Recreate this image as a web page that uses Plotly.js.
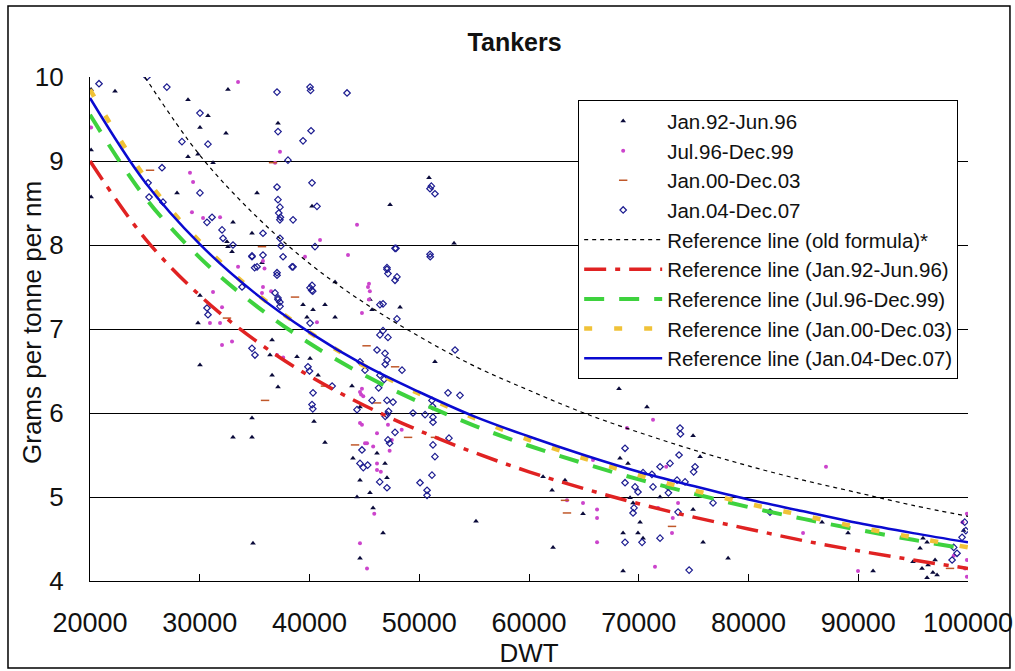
<!DOCTYPE html>
<html>
<head>
<meta charset="utf-8">
<script src="https://cdn.plot.ly/plotly-3.0.1.min.js"></script>
<style>
html,body{margin:0;padding:0;background:#fff;}
#chart{width:1015px;height:671px;}
</style>
</head>
<body>
<div id="chart"></div>
<script>
// ---- Scatter series (DWT, grams per tonne per nm) ----
const s1Name = 'Jan.92-Jun.96';
const s1X = [20100,20100,20100,22280,28930,30750,30020,32390,32570,29840,28930,31210,27930,35220,37130,40230,47340,33030,34760,32570,32480,32940,35670,45510,39410,40320,41410,42330,30020,29840,42330,39770,30020,36590,36400,38860,40050,36590,37130,40780,43870,34760,34760,33030,40410,41410,43960,44600,44330,34850,44600,50890,53170,45700,48250,44600,46150,46880,47060,45510,45790,46700,51430,55170,61280,62100,63280,62190,68200,70750,74950,68290,69020,75590,69210,71940,69480,74950,70120,69930,70390,68570,68570,78140,75860,64920,86700,89070,91350,95630,96270,94990,95810,96360,97000,96800,97180,96270,99600,95900];
const s1Y = [9.85,9.13,8.57,9.83,9.73,9.54,9.40,9.33,9.85,9.08,9.05,8.98,8.62,8.62,9.45,8.46,8.48,8.27,8.14,7.98,8.04,7.92,7.79,7.35,7.29,7.23,7.29,7.56,7.40,7.07,7.14,7.14,6.57,6.87,6.69,6.67,6.65,6.45,6.31,6.45,6.32,5.94,5.71,5.71,5.90,5.65,5.46,5.20,5.00,4.45,4.27,8.80,8.02,7.23,7.26,6.07,5.52,5.40,5.23,5.05,4.87,4.57,6.61,4.71,5.24,5.08,5.20,4.40,6.29,6.07,5.73,5.46,5.40,5.48,4.99,5.00,4.93,4.85,4.70,4.57,4.51,4.57,4.12,4.27,4.46,4.80,4.70,4.57,4.12,4.39,4.46,4.23,4.15,4.19,4.25,4.10,4.07,4.04,4.60,4.51];

const s2Name = 'Jul.96-Dec.99';
const s2X = [20100,33490,37310,36860,29110,29390,44330,29290,30300,31850,40960,35760,35900,39590,43510,45330,35670,31850,44780,33490,35760,36500,31210,30930,32030,40680,32030,32940,37040,37600,44600,44900,44600,45060,44600,45240,45500,45420,45420,44780,44700,44780,47150,46150,45240,45800,47300,46150,46150,46500,45900,47500,48400,71300,68930,72500,71760,73580,73030,73100,66200,66200,66200,64920,63460,71480,84970,87060,89980,99900,99730,99900,98700,99500,99900,65830];
const s2Y = [9.40,9.94,9.11,8.98,8.86,8.75,8.24,8.39,8.32,8.33,8.06,7.81,7.72,7.86,7.88,7.50,7.43,7.07,7.19,7.74,7.50,7.45,7.44,7.07,7.26,7.08,6.81,6.85,6.69,6.66,6.25,6.20,5.88,5.64,4.45,4.15,7.45,7.54,7.35,6.29,6.22,5.86,5.86,5.76,5.64,5.60,5.55,5.40,5.32,5.30,4.80,5.68,5.80,5.92,5.82,5.36,4.87,4.93,4.57,4.75,4.75,4.46,4.85,4.93,4.96,4.17,4.57,5.36,4.12,4.25,4.15,4.05,4.30,4.70,4.80,5.44];

const s3Name = 'Jan.00-Dec.03';
const s3X = [25470,36680,35670,38680,32480,41410,35950,44150,46150,48980,51430,63280,63460,73030,98360,45200,47800];
const s3Y = [8.89,8.98,7.98,7.38,7.13,6.32,6.15,5.62,6.12,5.71,5.71,4.96,4.81,4.65,4.15,6.80,6.55];

const s4Name = 'Jan.04-Dec.07';
const s4X = [20820,25190,27000,30020,28380,30750,37040,40050,40100,43420,37130,40140,39410,38040,26560,30020,25290,25380,26650,37040,37130,37310,37200,37350,37300,38500,40230,40680,31120,30660,32030,35760,32120,33030,37310,37400,40500,47790,34760,35760,35220,37590,38500,37040,47060,47970,46420,40230,40300,36860,37130,37310,30660,40050,34760,35000,37040,38410,33850,37130,37300,40050,40200,30750,34760,35030,39860,40000,42060,40320,40230,40300,44330,44600,44900,46700,46420,46700,47150,46150,46880,47060,46900,48430,44600,45060,46420,46800,46300,45700,47060,47610,47060,46900,47200,47790,47150,47300,44780,45300,46400,47060,49430,50530,51250,51160,51200,51250,51250,51430,51160,50070,50710,50710,52620,53710,52710,53260,50980,51430,51100,47880,50980,51000,47060,47150,47790,47970,73760,73800,68750,73670,72850,71940,75130,75000,70390,71200,73490,74220,72670,72700,68750,69660,69930,71300,69570,69480,73580,76770,81960,68750,70300,71940,74590,98550,98700,99000,99460,99800,99700];
const s4Y = [9.92,10.0,9.88,9.57,9.23,9.20,9.82,9.88,9.84,9.81,9.35,9.36,9.24,9.01,8.92,8.62,8.74,8.57,8.51,8.69,8.54,8.45,8.38,8.33,8.30,8.30,8.74,8.46,8.33,8.27,8.18,8.14,8.08,8.00,8.08,7.99,7.98,7.96,7.86,7.88,7.74,7.86,7.74,7.64,7.73,7.62,7.29,7.52,7.45,7.43,7.35,7.27,7.25,7.07,7.87,7.73,7.67,7.74,7.50,7.37,7.32,7.49,7.46,7.17,6.77,6.69,6.55,6.50,6.32,6.24,6.10,6.05,6.04,5.40,5.35,7.30,6.93,6.98,6.90,6.75,6.71,6.63,6.58,6.51,6.61,6.51,6.45,6.40,6.30,6.15,6.15,6.13,5.98,5.96,6.02,5.77,5.68,5.64,5.56,5.38,5.18,5.11,6.00,5.98,5.95,6.15,6.08,5.89,5.62,5.48,5.26,5.17,5.08,5.02,6.24,6.21,5.70,6.75,8.67,8.61,8.70,7.96,7.89,7.86,7.71,7.66,7.58,7.12,5.82,5.75,5.58,5.50,5.40,5.36,5.36,5.30,5.29,5.27,5.20,5.18,5.12,5.05,5.17,5.12,5.06,5.12,4.87,4.81,4.82,4.93,4.82,4.46,4.46,4.51,4.13,4.25,4.40,4.33,4.52,4.60,4.70];

// ---- Reference lines ----
const refX = [20000,25000,30000,35000,40000,45000,50000,55000,60000,65000,70000,75000,80000,85000,90000,95000,100000];
const oldX = [25000,30000,35000,40000,45000,50000,55000,60000,65000,70000,75000,80000,85000,90000,95000,100000];
const oldY = [10.0,9.07,8.36,7.78,7.31,6.91,6.56,6.27,6.00,5.77,5.56,5.37,5.20,5.05,4.90,4.77];
const ref92Y = [9.00,8.08,7.40,6.87,6.44,6.09,5.79,5.53,5.30,5.10,4.92,4.76,4.62,4.48,4.36,4.25,4.15];
const ref96Y = [9.55,8.57,7.85,7.29,6.83,6.45,6.13,5.85,5.61,5.40,5.21,5.04,4.88,4.74,4.61,4.49,4.38];
const ref00Y = [9.85,8.81,8.04,7.44,6.96,6.56,6.23,5.94,5.68,5.46,5.26,5.08,4.92,4.78,4.64,4.52,4.40];
const ref04Y = [9.75,8.75,8.01,7.43,6.96,6.57,6.25,5.96,5.72,5.50,5.30,5.13,4.97,4.83,4.69,4.57,4.46];

const xTicks = [20000,30000,40000,50000,60000,70000,80000,90000,100000];
const yTicks = [4,5,6,7,8,9,10];
const yTitle = 'Grams per tonne per nm';

const FONT = '"Liberation Sans", Arial, sans-serif';

const traces = [
  {x:s1X, y:s1Y, name:s1Name, type:'scatter', mode:'markers',
   marker:{symbol:'triangle-up', size:5, color:'#0a0a3a'}},
  {x:s2X, y:s2Y, name:s2Name, type:'scatter', mode:'markers',
   marker:{symbol:'circle', size:4, color:'#cc44cc'}},
  {x:s3X, y:s3Y, name:s3Name, type:'scatter', mode:'markers',
   marker:{symbol:'line-ew', size:6, color:'#c0582a', line:{color:'#c0582a', width:1.5}}},
  {x:s4X, y:s4Y, name:s4Name, type:'scatter', mode:'markers',
   marker:{symbol:'diamond-open', size:5, color:'#1c1c90', line:{color:'#1c1c90', width:1.2}}},
  {x:oldX, y:oldY, name:'Reference line (old formula)*', type:'scatter', mode:'lines',
   line:{color:'#000000', width:1.2, dash:'4px,4px', shape:'spline'}},
  {x:refX, y:ref92Y, name:'Reference line (Jan.92-Jun.96)', type:'scatter', mode:'lines',
   line:{color:'#e02222', width:3.5, dash:'22px,9px,5px,9px', shape:'spline'}},
  {x:refX, y:ref96Y, name:'Reference line (Jul.96-Dec.99)', type:'scatter', mode:'lines',
   line:{color:'#3ed23e', width:4, dash:'20px,15px', shape:'spline'}},
  {x:refX, y:ref00Y, name:'Reference line (Jan.00-Dec.03)', type:'scatter', mode:'lines',
   line:{color:'#f0c238', width:4.5, dash:'8px,22px', shape:'spline'}},
  {x:refX, y:ref04Y, name:'Reference line (Jan.04-Dec.07)', type:'scatter', mode:'lines',
   line:{color:'#0a0ad0', width:2.5, shape:'spline'}}
];

const layout = {
  width:1015, height:671,
  paper_bgcolor:'#ffffff', plot_bgcolor:'#ffffff',
  font:{family:FONT, color:'#111111'},
  margin:{l:90, r:47, t:77, b:90},
  showlegend:true,
  title:{text:'<b>Tankers</b>', font:{family:FONT, size:25, color:'#111111'},
         xref:'container', yref:'container', x:0.507, y:0.937, xanchor:'center', yanchor:'middle'},
  xaxis:{range:[20000,100000], tickvals:xTicks, ticktext:xTicks.map(String),
         ticks:'inside', ticklen:7, tickcolor:'#000', tickwidth:1,
         showline:true, linecolor:'#000', linewidth:1.2, showgrid:false, zeroline:false,
         tickfont:{family:FONT, size:27, color:'#111'}, ticklabelstandoff:17,
         automargin:false,
         title:{text:'DWT', font:{family:FONT, size:26, color:'#111'}, standoff:1}},
  yaxis:{range:[4,10], tickvals:yTicks, ticktext:yTicks.map(String),
         ticks:'', showline:true, linecolor:'#000', linewidth:1.2,
         showgrid:true, gridcolor:'#000', gridwidth:1, zeroline:false,
         tickfont:{family:FONT, size:26, color:'#111'}, ticklabelstandoff:20,
         automargin:false},
  annotations:[{text:yTitle, textangle:-90, xref:'paper', yref:'paper',
                x:-0.066, y:0.512, xanchor:'center', yanchor:'middle', showarrow:false,
                font:{family:FONT, size:26, color:'#111'}}],
  legend:{x:0.556, y:0.954, xanchor:'left', yanchor:'top',
          bgcolor:'#ffffff', bordercolor:'#000', borderwidth:1,
          font:{family:FONT, size:20.5, color:'#111'}, itemwidth:78, tracegroupgap:0,
          itemsizing:'trace'},
  shapes:[{type:'rect', xref:'paper', yref:'paper', x0:-0.0934, x1:1.0478, y0:-0.1726, y1:1.1409,
           line:{color:'#000', width:1.5}, fillcolor:'rgba(0,0,0,0)', layer:'below'}]
};

Plotly.newPlot('chart', traces, layout, {displayModeBar:false, staticPlot:true});
</script>
</body>
</html>
